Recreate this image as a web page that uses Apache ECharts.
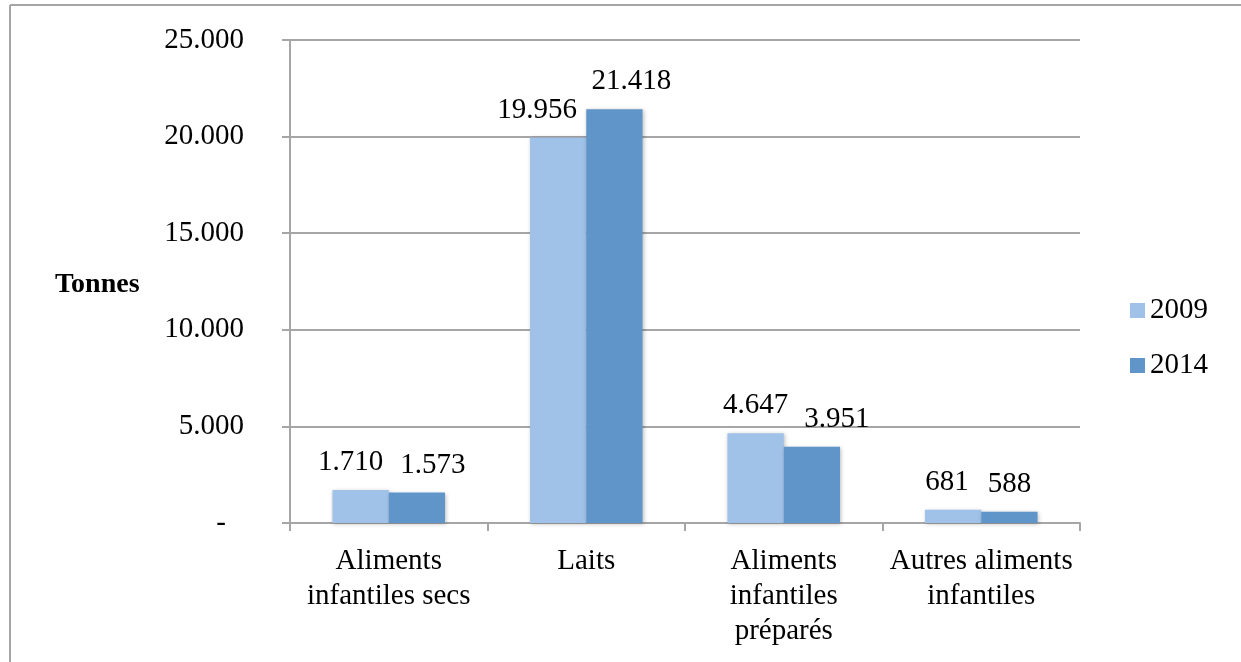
<!DOCTYPE html>
<html lang="fr">
<head>
    <meta charset="UTF-8">
    <title>Tonnes 2009 / 2014</title>
    <script type="text/javascript" src="https://cdn.jsdelivr.net/npm/echarts@6/dist/echarts.min.js"></script>
    <style>
        html, body { margin: 0; padding: 0; background: #fff; }
    </style>
</head>
<body>
  <div id="main" style="width: 1241px; height: 662px;"></div>
</body>
<script>
    // donnees
    var categories = ['Aliments\ninfantiles secs', 'Laits', 'Aliments\ninfantiles\npréparés', 'Autres aliments\ninfantiles'];
    var seriesNames = ['2009', '2014'];
    var values2009 = [1710, 19956, 4647, 681];
    var values2014 = [1573, 21418, 3951, 588];
    var yTicks = [0, 5000, 10000, 15000, 20000, 25000];

    // decalage horizontal des etiquettes (comme dans l'original)
    var labelShift2009 = [-10, -21, 0, -6];
    var labelShift2014 = [16, 17, 25, 0];

    var font = '"Liberation Serif", "Times New Roman", serif';

    // 25000 -> "25.000", 0 -> "-"
    function fmt(v) {
        if (v === 0) return '-';
        return String(v).replace(/\B(?=(\d{3})+(?!\d))/g, '.');
    }

    function makeData(arr, shifts) {
        return arr.map(function (v, i) {
            return { value: v, label: { offset: [shifts[i], 0] } };
        });
    }

    var valueLabel = {
        show: true, position: 'top', distance: 13,
        fontFamily: font, fontSize: 29, color: '#000',
        formatter: function (p) { return fmt(p.value); }
    };

    var myChart = echarts.init(document.getElementById('main'));
    var option = {
        backgroundColor: '#fff',
        animation: false,
        textStyle: { fontFamily: font },
        graphic: [
            { type: 'line', shape: { x1: 10, y1: 5, x2: 1241, y2: 5 }, style: { stroke: '#a6a6a6', lineWidth: 2 } },
            { type: 'line', shape: { x1: 10, y1: 5, x2: 10, y2: 662 }, style: { stroke: '#a6a6a6', lineWidth: 2 } },
            { type: 'text', x: 55, y: 285, style: { text: 'Tonnes', font: 'bold 28px ' + font, fill: '#000', verticalAlign: 'middle' } }
        ],
        grid: { left: 290, right: 161, top: 40, bottom: 139 },
        legend: {
            data: seriesNames,
            orient: 'vertical',
            left: 1130,
            top: 296,
            padding: 0,
            itemWidth: 15,
            itemHeight: 15,
            itemGap: 26,
            icon: 'rect',
            textStyle: { fontFamily: font, fontSize: 29, lineHeight: 29, color: '#000' }
        },
        xAxis: {
            type: 'category',
            data: categories,
            axisLine: { lineStyle: { color: '#a6a6a6', width: 2 } },
            axisTick: { show: true, length: 8, lineStyle: { color: '#a6a6a6', width: 2 } },
            axisLabel: { fontFamily: font, fontSize: 29, color: '#000', lineHeight: 35, margin: 21, interval: 0 }
        },
        yAxis: {
            type: 'value',
            min: yTicks[0],
            max: yTicks[yTicks.length - 1],
            interval: 5000,
            axisLine: { show: true, lineStyle: { color: '#a6a6a6', width: 2 } },
            axisTick: { show: true, length: 8, lineStyle: { color: '#a6a6a6', width: 2 } },
            splitLine: { lineStyle: { color: '#a6a6a6', width: 2 } },
            axisLabel: {
                fontFamily: font, fontSize: 29, color: '#000', margin: 46,
                formatter: function (v) { return v === 0 ? '{dash|-}' : fmt(v); },
                rich: { dash: { fontFamily: font, fontSize: 29, color: '#000', padding: [0, 18, 0, 0] } }
            }
        },
        series: [{
            name: seriesNames[0],
            type: 'bar',
            barGap: '0%',
            barCategoryGap: '43%',
            data: makeData(values2009, labelShift2009),
            itemStyle: { color: '#a0c2e9', shadowColor: 'rgba(0,0,0,0.25)', shadowBlur: 4, shadowOffsetX: 1, shadowOffsetY: 1 },
            label: valueLabel
        }, {
            name: seriesNames[1],
            type: 'bar',
            data: makeData(values2014, labelShift2014),
            itemStyle: { color: '#5f95c9', shadowColor: 'rgba(0,0,0,0.25)', shadowBlur: 4, shadowOffsetX: 1, shadowOffsetY: 1 },
            label: valueLabel
        }]
    };
    myChart.setOption(option);
</script>
</html>
